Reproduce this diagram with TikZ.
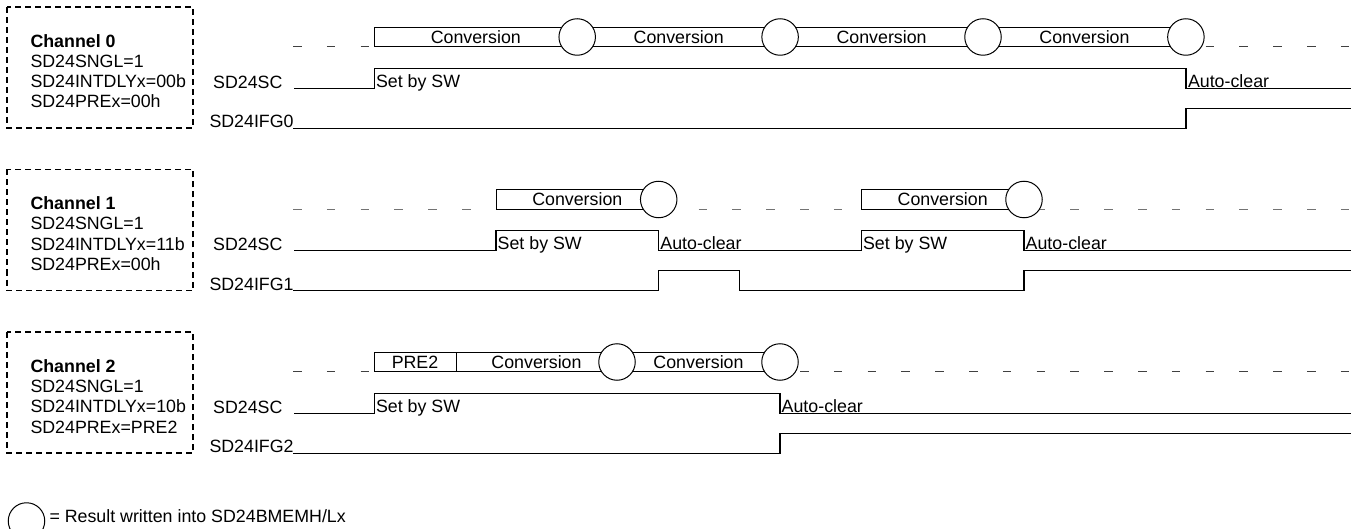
\documentclass[tikz,border=0pt]{standalone}
\usepackage{fontspec}
\setmainfont{Liberation Sans}
\usetikzlibrary{positioning}

\begin{document}
\begin{tikzpicture}[x=1pt, y=-1pt, line width=1pt,
    every node/.style={font=\fontsize{17.8}{20.3}\selectfont, inner sep=0pt},
    chanbox/.style={draw, line width=1.8pt, dash pattern=on 6pt off 4pt},
    convbox/.style={draw, fill=white},
    result/.style={draw, circle, fill=white, minimum size=36.5pt},
    slot/.style={draw=black!75, line width=1pt, dash pattern=on 8.5pt off 25.3pt},
    sig/.style={line width=1.1pt},
    tag/.style={anchor=base west}]

    \useasboundingbox (0,0) rectangle (1351,529);

    % Channel 0
    \draw[chanbox] (7,7) rectangle (193,128);
    \node[align=left, anchor=base west] (info0) at (30,108) {\textbf{Channel 0}\\SD24SNGL=1\\SD24INTDLYx=00b\\SD24PREx=00h};
    \draw[slot] (293,46.7) -- (1351,46.7);
    \draw[convbox] (374.3,27.3) rectangle (1186,46.7);
    \foreach \cx [count=\i] in {577.2,780.1,983.0,1185.9}
        \node[result] (res0-\i) at (\cx,37) {};
    \foreach \tx [count=\i] in {475.8,678.7,881.6,1084.5}
        \node (conv0-\i) at (\tx,37) {Conversion};
    \node[tag] (sc0) at (212.7,88.5) {SD24SC};
    \draw[sig] (294,88.3) -- (374.3,88.3) -- (374.3,68.3) -- (1186,68.3) -- (1186,88.3) -- (1351,88.3);
    \node[tag] (set0) at (375.5,87.5) {Set by SW};
    \node[tag] (clr0) at (1187.5,87.5) {Auto-clear};
    \node[tag] (ifg0) at (209,127.5) {SD24IFG0};
    \draw[sig] (293,128.3) -- (1186,128.3) -- (1186,108.3) -- (1351,108.3);

    % Channel 1
    \begin{scope}[yshift=-162.5pt]
    \draw[chanbox] (7,7) rectangle (193,128);
    \node[align=left, anchor=base west] (info1) at (30,108) {\textbf{Channel 1}\\SD24SNGL=1\\SD24INTDLYx=11b\\SD24PREx=00h};
    \draw[slot, draw=black!55] (293,46.7) -- (1351,46.7);
    \draw[convbox] (496,27.3) rectangle (658.7,46.7);
    \draw[convbox] (861.4,27.3) rectangle (1024,46.7);
    \node[result] (res1-1) at (658.7,37) {};
    \node[result] (res1-2) at (1024,37) {};
    \node (conv1-1) at (577.3,37) {Conversion};
    \node (conv1-2) at (942.7,37) {Conversion};
    \node[tag] (sc1) at (212.7,88.5) {SD24SC};
    \draw[sig] (294,88.3) -- (496,88.3) -- (496,68.3) -- (658.7,68.3) -- (658.7,88.3)
        -- (861.4,88.3) -- (861.4,68.3) -- (1024,68.3) -- (1024,88.3) -- (1351,88.3);
    \node[tag] (set1-1) at (497.2,87.5) {Set by SW};
    \node[tag] (clr1-1) at (659.9,87.5) {Auto-clear};
    \node[tag] (set1-2) at (862.6,87.5) {Set by SW};
    \node[tag] (clr1-2) at (1025.2,87.5) {Auto-clear};
    \node[tag] (ifg1) at (209,127.5) {SD24IFG1};
    \draw[sig] (293,128.3) -- (658.7,128.3) -- (658.7,108.3) -- (739.3,108.3) -- (739.3,128.3)
        -- (1024,128.3) -- (1024,108.3) -- (1351,108.3);
    \end{scope}

    % Channel 2
    \begin{scope}[yshift=-325pt]
    \draw[chanbox] (7,7) rectangle (193,128);
    \node[align=left, anchor=base west] (info2) at (30,108) {\textbf{Channel 2}\\SD24SNGL=1\\SD24INTDLYx=10b\\SD24PREx=PRE2};
    \draw[slot] (293,46.7) -- (1351,46.7);
    \draw[convbox] (374.3,27.3) rectangle (456,46.7);
    \draw[convbox] (456,27.3) rectangle (780,46.7);
    \node[result] (res2-1) at (617,37) {};
    \node[result] (res2-2) at (780,37) {};
    \node (pre2) at (415,37) {PRE2};
    \node (conv2-1) at (536.5,37) {Conversion};
    \node (conv2-2) at (698.5,37) {Conversion};
    \node[tag] (sc2) at (212.7,88.5) {SD24SC};
    \draw[sig] (294,88.3) -- (374.3,88.3) -- (374.3,68.3) -- (780,68.3) -- (780,88.3) -- (1351,88.3);
    \node[tag] (set2) at (375.5,87.5) {Set by SW};
    \node[tag] (clr2) at (781.2,87.5) {Auto-clear};
    \node[tag] (ifg2) at (209,127.5) {SD24IFG2};
    \draw[sig] (293,128.3) -- (780,128.3) -- (780,108.3) -- (1351,108.3);
    \end{scope}

    % legend
    \node[result] (key) at (26.5,521) {};
    \node[tag] (keytext) at (49,522) {= Result written into SD24BMEMH/Lx};
\end{tikzpicture}
\end{document}
